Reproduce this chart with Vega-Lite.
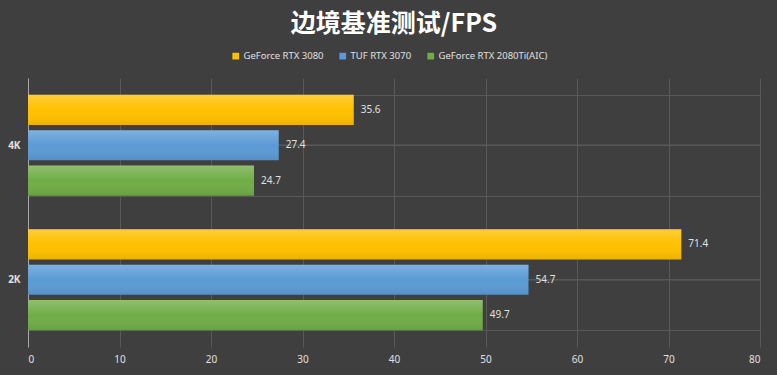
{
  "$schema": "https://vega.github.io/schema/vega-lite/v6.json",
  "width": 732,
  "height": 269,
  "autosize": {"type": "none"},
  "padding": {"left": 28, "top": 78, "right": 17, "bottom": 28},
  "background": "#3f3f3f",
  "title": {
    "text": "边境基准测试/FPS",
    "font": "Noto Sans CJK SC",
    "fontSize": 25,
    "fontWeight": "bold",
    "color": "#ffffff",
    "anchor": "middle",
    "frame": "group",
    "offset": 14
  },
  "config": {
    "view": {"stroke": null},
    "font": "Noto Sans"
  },
  "data": {
    "values": [
      {"res": "4K", "gpu": "GeForce RTX 3080", "fps": 35.6},
      {"res": "4K", "gpu": "TUF RTX 3070", "fps": 27.4},
      {"res": "4K", "gpu": "GeForce RTX 2080Ti(AIC)", "fps": 24.7},
      {"res": "2K", "gpu": "GeForce RTX 3080", "fps": 71.4},
      {"res": "2K", "gpu": "TUF RTX 3070", "fps": 54.7},
      {"res": "2K", "gpu": "GeForce RTX 2080Ti(AIC)", "fps": 49.7}
    ]
  },
  "encoding": {
    "y": {
      "field": "res",
      "type": "nominal",
      "sort": ["4K", "2K"],
      "scale": {"paddingInner": 0.25, "paddingOuter": 0.125},
      "axis": {
        "title": null,
        "domain": true,
        "domainColor": "#a8a8a8",
        "ticks": false,
        "labelColor": "#e0e0e0",
        "labelFontSize": 10,
        "labelFontWeight": "bold",
        "labelPadding": 8,
        "grid": true,
        "tickBand": "extent",
        "gridColor": "#595959",
        "labelAngle": 0
      }
    },
    "x": {
      "field": "fps",
      "type": "quantitative",
      "scale": {"domain": [0, 80], "nice": false},
      "axis": {
        "title": null,
        "values": [0, 10, 20, 30, 40, 50, 60, 70, 80],
        "domain": false,
        "ticks": false,
        "grid": true,
        "gridColor": "#595959",
        "labelColor": "#e0e0e0",
        "labelFontSize": 10,
        "labelPadding": 7
      }
    }
  },
  "layer": [
    {
      "mark": {"type": "rule", "color": "#595959", "strokeWidth": 1},
      "encoding": {
        "x": {"datum": 0, "type": "quantitative"},
        "x2": {"datum": 80}
      }
    },
    {
      "mark": {"type": "bar"},
      "encoding": {
        "yOffset": {
          "field": "gpu",
          "sort": ["GeForce RTX 3080", "TUF RTX 3070", "GeForce RTX 2080Ti(AIC)"],
          "scale": {"paddingInner": 0.15}
        },
        "color": {
          "field": "gpu",
          "type": "nominal",
          "sort": ["GeForce RTX 3080", "TUF RTX 3070", "GeForce RTX 2080Ti(AIC)"],
          "scale": {"range": ["#FFC000", "#5B9BD5", "#70AD47"]},
          "legend": {
            "title": null,
            "orient": "none",
            "direction": "horizontal",
            "legendX": 203,
            "legendY": -27,
            "symbolType": "square",
            "symbolSize": 45,
            "symbolStrokeWidth": 0,
            "labelColor": "#e0e0e0",
            "labelFontSize": 9.5,
            "labelOffset": 3,
            "columnPadding": 14
          }
        }
      }
    },
    {
      "mark": {
        "type": "bar",
        "fill": {
          "gradient": "linear",
          "x1": 0, "y1": 0, "x2": 0, "y2": 1,
          "stops": [
            {"offset": 0, "color": "rgba(255,255,255,0.22)"},
            {"offset": 0.5, "color": "rgba(255,255,255,0.0)"},
            {"offset": 1, "color": "rgba(0,0,0,0.08)"}
          ]
        }
      },
      "encoding": {
        "yOffset": {
          "field": "gpu",
          "sort": ["GeForce RTX 3080", "TUF RTX 3070", "GeForce RTX 2080Ti(AIC)"],
          "scale": {"paddingInner": 0.15}
        }
      }
    },
    {
      "mark": {"type": "text", "align": "left", "baseline": "middle", "dx": 7, "color": "#e0e0e0", "fontSize": 10},
      "encoding": {
        "yOffset": {
          "field": "gpu",
          "sort": ["GeForce RTX 3080", "TUF RTX 3070", "GeForce RTX 2080Ti(AIC)"],
          "scale": {"paddingInner": 0.15}
        },
        "text": {"field": "fps", "type": "quantitative", "format": ".1f"}
      }
    }
  ]
}
